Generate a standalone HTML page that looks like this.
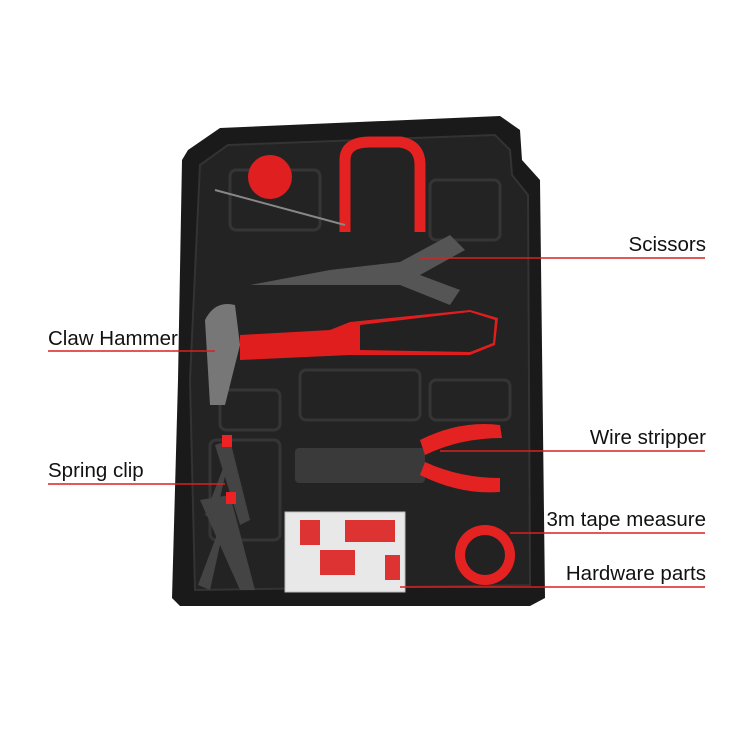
<!DOCTYPE html>
<html><head><style>
body{margin:0;background:#fff;width:750px;height:750px;overflow:hidden;position:relative;font-family:"Liberation Sans",sans-serif}
.l{position:absolute;font-size:20.5px;color:#111;white-space:nowrap;line-height:24px}
.r{right:44px;text-align:right}
</style></head><body>
<svg width="750" height="750" style="position:absolute;left:0;top:0">
<polygon points="188,150 220,128 500,116 520,130 522,160 540,180 545,598 530,606 180,606 172,598 178,380 182,160" fill="#1a1a1a"/>
<polygon points="200,165 228,145 495,135 510,150 512,175 528,195 530,585 195,590 190,380" fill="#232323" stroke="#333" stroke-width="2"/>
<g fill="none" stroke="#353535" stroke-width="3">
<rect x="230" y="170" width="90" height="60" rx="6"/><rect x="430" y="180" width="70" height="60" rx="6"/>
<rect x="300" y="370" width="120" height="50" rx="6"/><rect x="430" y="380" width="80" height="40" rx="6"/>
<rect x="220" y="390" width="60" height="40" rx="6"/><rect x="210" y="440" width="70" height="100" rx="6"/>
</g>
<circle cx="270" cy="177" r="22" fill="#e02020"/>
<path d="M345,232 L345,160 Q345,142 370,142 L400,142 Q420,145 420,165 L420,232" fill="none" stroke="#e52222" stroke-width="11"/>
<line x1="215" y1="190" x2="345" y2="225" stroke="#888" stroke-width="2"/>
<path d="M250,285 L330,270 L400,262 L450,235 L465,250 L420,275 L460,290 L450,305 L400,285 L330,285 Z" fill="#555"/>
<path d="M205,320 Q215,300 235,305 L240,345 L225,405 L210,405 Z" fill="#777"/>
<path d="M240,335 L330,330 L350,322 L470,310 L498,318 L495,345 L470,355 L350,355 L240,360 Z" fill="#e01e1e"/>
<path d="M360,325 L470,312 L495,320 L493,343 L470,352 L360,350 Z" fill="#222"/>
<rect x="295" y="448" width="130" height="35" rx="4" fill="#3a3a3a"/>
<path d="M420,440 Q460,420 500,425 L502,438 Q460,438 425,455 Z" fill="#e52222"/>
<path d="M425,462 Q460,478 500,478 L500,492 Q460,495 420,475 Z" fill="#e52222"/>
<path d="M215,445 L230,440 L250,520 L240,525 Z M232,445 L215,520 L205,515 Z" fill="#444"/>
<path d="M200,500 L230,495 L255,590 L240,590 Z M230,500 L210,590 L198,585 Z" fill="#444"/>
<rect x="222" y="435" width="10" height="12" fill="#e22"/><rect x="226" y="492" width="10" height="12" fill="#e22"/>
<rect x="285" y="512" width="120" height="80" fill="#e8e8e8" stroke="#bbb"/>
<g fill="#d33"><rect x="300" y="520" width="20" height="25"/><rect x="345" y="520" width="50" height="22"/><rect x="320" y="550" width="35" height="25"/><rect x="385" y="555" width="15" height="25"/></g>
<circle cx="485" cy="555" r="30" fill="#e52222"/><circle cx="485" cy="555" r="20" fill="#222"/>
<g stroke="#d92020" stroke-width="1.5">
<line x1="420" y1="258" x2="705" y2="258"/><line x1="48" y1="351" x2="215" y2="351"/>
<line x1="440" y1="451" x2="705" y2="451"/><line x1="48" y1="484" x2="225" y2="484"/>
<line x1="510" y1="533" x2="705" y2="533"/><line x1="400" y1="587" x2="705" y2="587"/>
</g>
</svg>
<div class="l r" style="top:233px">Scissors</div>
<div class="l" style="left:48px;top:327px">Claw Hammer</div>
<div class="l r" style="top:426px">Wire stripper</div>
<div class="l" style="left:48px;top:459px">Spring clip</div>
<div class="l r" style="top:508px">3m tape measure</div>
<div class="l r" style="top:562px">Hardware parts</div>
</body></html>
